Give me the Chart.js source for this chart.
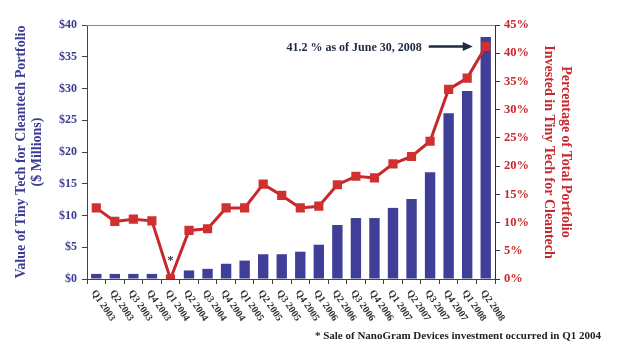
<!DOCTYPE html>
<html>
<head>
<meta charset="utf-8">
<script src="https://cdn.jsdelivr.net/npm/chart.js@4.4.1/dist/chart.umd.min.js"></script>
<style>
  html, body { margin: 0; padding: 0; background: #fff; }
  #wrap { width: 627px; height: 346px; }
</style>
</head>
<body>
<div id="wrap"><canvas id="tinyTechChart" width="627" height="346"></canvas></div>
<script>
const quarters = ['Q1 2003', 'Q2 2003', 'Q3 2003', 'Q4 2003', 'Q1 2004', 'Q2 2004', 'Q3 2004', 'Q4 2004',
   'Q1 2005', 'Q2 2005', 'Q3 2005', 'Q4 2005', 'Q1 2006', 'Q2 2006', 'Q3 2006', 'Q4 2006',
   'Q1 2007', 'Q2 2007', 'Q3 2007', 'Q4 2007', 'Q1 2008', 'Q2 2008'];
// $ millions
const portfolioValue = [0.8, 0.8, 0.8, 0.8, 0, 1.35, 1.6, 2.4, 2.9, 3.9, 3.9, 4.3,
   5.4, 8.5, 9.6, 9.6, 11.2, 12.6, 16.8, 26.1, 29.6, 38.1];
// % of total portfolio
const portfolioPct = [12.6, 10.2, 10.6, 10.3, 0, 8.6, 8.9, 12.6, 12.6, 16.8, 14.8, 12.6,
   12.9, 16.7, 18.2, 17.9, 20.4, 21.7, 24.4, 33.6, 35.6, 41.2];
const leftAxisMax = 40;
const rightAxisMax = 45;
const calloutText = '41.2 % as of June 30, 2008';
const footnoteText = '* Sale of NanoGram Devices investment occurred in Q1 2004';
const starIndex = 4;

const blue = '#3c3c94';
const red = '#c8282d';
const serif = '"Liberation Serif", "Times New Roman", serif';

// extra text: rotated quarter labels, callout arrow, footnote
const extrasPlugin = {
   id: 'extras',
   afterDraw(chart) {
      const ctx = chart.ctx;
      const area = chart.chartArea;
      const x = chart.scales.x;
      const yPct = chart.scales.yPct;

      ctx.save();
      // top frame line
      ctx.strokeStyle = '#8a8a8a';
      ctx.lineWidth = 1;
      ctx.beginPath();
      ctx.moveTo(area.left, area.top + 0.5);
      ctx.lineTo(area.right, area.top + 0.5);
      ctx.stroke();

      // quarter labels, rotated clockwise
      ctx.fillStyle = '#333';
      ctx.font = 'bold 10px ' + serif;
      ctx.textAlign = 'left';
      ctx.textBaseline = 'middle';
      quarters.forEach((q, i) => {
         const px = x.getPixelForValue(i);
         ctx.save();
         ctx.translate(px - 3, area.bottom + 12);
         ctx.rotate(56 * Math.PI / 180);
         ctx.fillText(q, 0, 0);
         ctx.restore();
      });

      // star above Q1 2004
      ctx.font = 'bold 12px ' + serif;
      ctx.textAlign = 'center';
      ctx.fillText('*', x.getPixelForValue(starIndex), yPct.getPixelForValue(portfolioPct[starIndex]) - 18);

      // callout with arrow
      const last = portfolioPct.length - 1;
      const tipX = x.getPixelForValue(last) - 13;
      const tipY = yPct.getPixelForValue(portfolioPct[last]);
      ctx.strokeStyle = '#1e2a40';
      ctx.fillStyle = '#1e2a40';
      ctx.lineWidth = 2.5;
      ctx.beginPath();
      ctx.moveTo(tipX - 44, tipY);
      ctx.lineTo(tipX - 8, tipY);
      ctx.stroke();
      ctx.beginPath();
      ctx.moveTo(tipX, tipY);
      ctx.lineTo(tipX - 10, tipY - 4.5);
      ctx.lineTo(tipX - 10, tipY + 4.5);
      ctx.closePath();
      ctx.fill();
      ctx.font = 'bold 12px ' + serif;
      ctx.textAlign = 'right';
      ctx.fillText(calloutText, tipX - 51, tipY + 1);

      // footnote
      ctx.fillStyle = '#222';
      ctx.font = 'bold 11px ' + serif;
      ctx.textAlign = 'right';
      ctx.fillText(footnoteText, 601, 336);
      ctx.restore();
   }
};

const ctx = document.getElementById('tinyTechChart').getContext('2d');
new Chart(ctx, {
   type: 'bar',
   data: {
      labels: quarters,
      datasets: [{
         type: 'line',
         label: 'Percentage of portfolio',
         data: portfolioPct,
         yAxisID: 'yPct',
         borderColor: red,
         backgroundColor: red,
         borderWidth: 3,
         pointStyle: 'rect',
         pointRadius: 6.5,
         pointBackgroundColor: '#d0302f',
         pointBorderWidth: 0,
         tension: 0,
         order: 0
      }, {
         type: 'bar',
         label: 'Value ($ millions)',
         data: portfolioValue,
         yAxisID: 'yVal',
         backgroundColor: '#3f3f98',
         categoryPercentage: 1,
         barPercentage: 0.56,
         order: 1
      }]
   },
   plugins: [extrasPlugin],
   options: {
      responsive: false,
      animation: false,
      layout: { padding: { top: 25, left: 0, right: 0, bottom: 0 } },
      plugins: {
         legend: { display: false },
         tooltip: { enabled: false }
      },
      scales: {
         x: {
            type: 'category',
            ticks: { display: false },
            grid: { drawOnChartArea: false, drawTicks: true, tickLength: 5, color: '#444' },
            border: { display: true, color: '#444', width: 1 },
            afterFit(scale) { scale.height = 67; }
         },
         yVal: {
            position: 'left',
            min: 0,
            max: leftAxisMax,
            ticks: {
               stepSize: 5,
               color: blue,
               padding: 5,
               font: { family: serif, size: 12, weight: 'bold' },
               callback: v => '$' + v
            },
            grid: { drawOnChartArea: false, drawTicks: true, tickLength: 5, color: '#444' },
            border: { display: true, color: '#444', width: 1 },
            title: {
               display: true,
               text: ['Value of Tiny Tech for Cleantech Portfolio', '($ Millions)'],
               color: blue,
               font: { family: serif, size: 14, weight: 'bold', lineHeight: 1.15 },
               padding: { top: 13, bottom: 0 }
            },
            afterFit(scale) { scale.width = 87; }
         },
         yPct: {
            position: 'right',
            min: 0,
            max: rightAxisMax,
            ticks: {
               stepSize: 5,
               color: red,
               padding: 4,
               font: { family: serif, size: 12.5, weight: 'bold' },
               callback: v => v + '%'
            },
            grid: { drawOnChartArea: false, drawTicks: true, tickLength: 5, color: '#2a2f55' },
            border: { display: true, color: '#2a2f55', width: 1 },
            title: {
               display: true,
               text: ['Percentage of Total Portfolio', 'Invested in Tiny Tech for Cleantech'],
               color: red,
               font: { family: serif, size: 14, weight: 'bold', lineHeight: 1.2 },
               padding: { top: 53, bottom: 0 }
            },
            afterFit(scale) { scale.width = 132; }
         }
      }
   }
});
</script>
</body>
</html>
